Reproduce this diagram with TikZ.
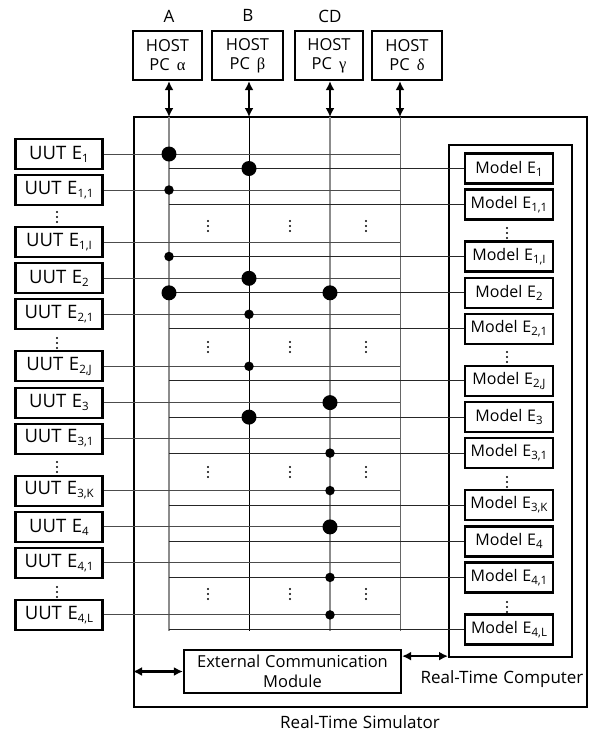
\documentclass[tikz,border=0pt]{standalone}
\usepackage{fontspec}
\setmainfont{Open Sans}
\newfontfamily\grk{Liberation Serif}
\usetikzlibrary{arrows.meta,calc}
% lowered small index after a letter
\newcommand\sbs[1]{\raisebox{-3pt}{\fontsize{11.5}{10}\selectfont #1}}
\begin{document}
\begin{tikzpicture}[x=1pt,y=-1pt,
  thickbox/.style={draw, line width=2.2pt, inner sep=0pt},
  uut/.style={thickbox, minimum width=87pt, minimum height=30pt, font=\fontsize{18.5}{18}\selectfont},
  model/.style={thickbox, minimum width=88pt, minimum height=30pt, font=\fontsize{16}{18}\selectfont},
  host/.style={thickbox, minimum width=69pt, minimum height=49pt, align=center, font=\fontsize{16.5}{19}\selectfont},
  frame/.style={draw, line width=2pt, inner sep=0pt},
  lbl/.style={inner sep=0pt, font=\fontsize{17}{20}\selectfont},
  biarrow/.style={{Latex[length=9pt,width=9pt]}-{Latex[length=9pt,width=9pt]}, line width=2.1pt},
  busgray/.style={draw=black!45, line width=1.3pt},
  busblack/.style={draw=black, line width=0.9pt},
  busdark/.style={draw=black!60, line width=1pt},
  uutline/.style={draw=black!70, line width=0.9pt},
  modline/.style={draw=black!85, line width=0.9pt},
  bigdot/.style={circle, fill=black, inner sep=0pt, minimum size=15pt},
  smalldot/.style={circle, fill=black, inner sep=0pt, minimum size=9.5pt},
  threedots/.pic={\fill (0,-5) circle (1.1) (0,0) circle (1.1) (0,5) circle (1.1);}
]
\useasboundingbox (0,0) rectangle (591,732);

% outer frames
\node[frame, minimum width=453pt, minimum height=590pt] (sim) at (360.5,412) {};
\node[frame, minimum width=123pt, minimum height=512pt] (rtc) at (510.5,401) {};

% bus coordinates (top and bottom)
\coordinate (A) at (169,117);  \coordinate (Ab) at (169,631);
\coordinate (B) at (249,117);  \coordinate (Bb) at (249,631);
\coordinate (C) at (330,117);  \coordinate (Cb) at (330,631);
\coordinate (D) at (400,117);  \coordinate (Db) at (400,631);

% host PCs
\node[host] (h1) at (167.5,55.5) {HOST\\PC\, {\grk α}};
\node[host, minimum width=71pt] (h2) at (247.5,55.5) {HOST\\PC\, {\grk β}};
\node[host, minimum width=68pt] (h3) at (329,55.5) {HOST\\PC\, {\grk γ}};
\node[host, minimum width=70pt] (h4) at (407,55.5) {HOST\\PC\, {\grk δ}};
\node[lbl] (la) at (169,16) {A};
\node[lbl] (lb) at (248,15) {B};
\node[lbl] (lcd) at (330,16) {CD};

\draw[biarrow] (A |- h1.south) -- (A);
\draw[biarrow] (B |- h2.south) -- (B);
\draw[biarrow] (C |- h3.south) -- (C);
\draw[biarrow] (D |- h4.south) -- (D);

% buses
\draw[busgray] (A) -- (Ab);
\draw[busblack] (B) -- (Bb);
\draw[busgray] (C) -- (Cb);
\draw[busdark] (D) -- (Db);

% units under test and their models
\foreach \g/\last in {1/I,2/J,3/K,4/L}{
  \pgfmathsetmacro\yb{154+124.3*(\g-1)}
  \node[uut] (u\g-0) at (59,\yb) {UUT\hspace{0.3em}E\sbs{\g}};
  \node[uut] (u\g-1) at (59,\yb+36) {UUT\hspace{0.3em}E\sbs{\g,1}};
  \node[uut] (u\g-n) at (59,\yb+88) {UUT\hspace{0.3em}E\sbs{\g,\last}};
  \node[model] (m\g-0) at (509,\yb+14.5) {Model\hspace{0.3em}E\sbs{\g}};
  \node[model] (m\g-1) at (509,\yb+50.5) {Model\hspace{0.3em}E\sbs{\g,1}};
  \node[model] (m\g-n) at (509,\yb+102.5) {Model\hspace{0.3em}E\sbs{\g,\last}};
  \foreach \k in {0,1,n}{
    \draw[uutline] (u\g-\k.east) -- (u\g-\k.east -| D);
    \draw[modline] (A |- m\g-\k.west) -- (m\g-\k.west);
  }
}

% ellipses between rows
\foreach \yu/\yg/\ym in {217/226/233, 343/347/357, 467/472/482, 592/594/607}{
  \pic at (57,\yu) {threedots};
  \pic at (208,\yg) {threedots};
  \pic at (290,\yg) {threedots};
  \pic at (366,\yg) {threedots};
  \pic at (507,\ym) {threedots};
}

% connection points on bus A
\node[bigdot] at (A |- u1-0.east) {};
\node[smalldot] at (A |- u1-1.east) {};
\node[smalldot] at (A |- m1-n.west) {};
\node[bigdot] at (A |- m2-0.west) {};
% connection points on bus B
\node[bigdot] at (B |- m1-0.west) {};
\node[bigdot] at (B |- u2-0.east) {};
\node[smalldot] at (B |- u2-1.east) {};
\node[smalldot] at (B |- u2-n.east) {};
\node[bigdot] at (B |- m3-0.west) {};
% connection points on bus CD
\node[bigdot] at (C |- m2-0.west) {};
\node[bigdot] at (C |- u3-0.east) {};
\node[smalldot] at (C |- m3-1.west) {};
\node[smalldot] at (C |- u3-n.east) {};
\node[bigdot] at (C |- u4-0.east) {};
\node[smalldot] at (C |- m4-1.west) {};
\node[smalldot] at (C |- u4-n.east) {};

% external communication
\node[thickbox, minimum width=217pt, minimum height=43pt, align=center,
      font=\fontsize{16.5}{20}\selectfont] (ecm) at (292.5,671.5)
      {External\hspace{0.3em}Communication\\Module};
\coordinate (ecmr) at ($(ecm.north east)!0.16!(ecm.south east)$);
\draw[biarrow] (sim.west |- ecm.west) -- (ecm.west);
\draw[biarrow] (ecmr) -- (ecmr -| rtc.west);

\node[lbl] (rtcl) at (502,679) {Real-Time\hspace{0.3em}Computer};
\node[lbl] (siml) at (360,722) {Real-Time\hspace{0.3em}Simulator};
\end{tikzpicture}
\end{document}
